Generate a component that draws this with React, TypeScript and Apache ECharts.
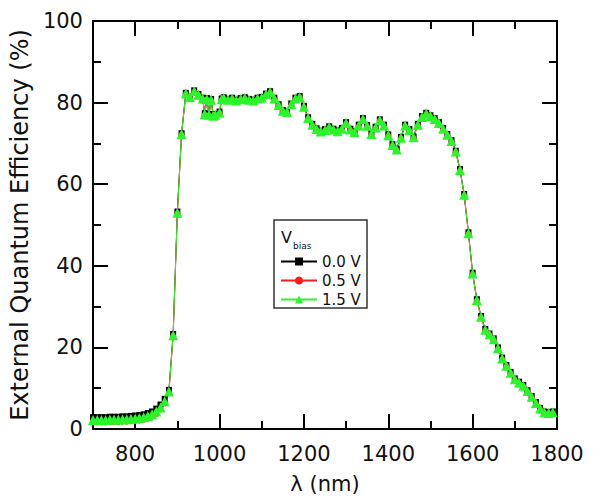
import React, { useEffect, useRef } from "react";
import * as echarts from "echarts";

const wavelengths = [
  700, 710, 720, 730, 740, 750, 760, 770, 780, 790,
  800, 810, 820, 830, 840, 850, 860, 870, 880, 890,
  900, 910, 920, 930, 940, 950, 960, 965, 970, 975,
  980, 985, 990, 1000, 1005, 1010, 1020, 1030, 1040, 1050,
  1060, 1070, 1080, 1090, 1100, 1110, 1120, 1130, 1140, 1150,
  1160, 1170, 1180, 1190, 1200, 1210, 1220, 1230, 1240, 1250,
  1260, 1270, 1280, 1290, 1300, 1310, 1320, 1330, 1340, 1350,
  1360, 1370, 1380, 1390, 1400, 1410, 1420, 1430, 1440, 1450,
  1460, 1470, 1480, 1490, 1500, 1510, 1520, 1530, 1540, 1550,
  1560, 1570, 1580, 1590, 1600, 1610, 1620, 1630, 1640, 1650,
  1660, 1670, 1680, 1690, 1700, 1710, 1720, 1730, 1740, 1750,
  1760, 1770, 1780, 1790,
];

const eqe00 = [
  2.9, 2.9, 2.9, 2.9, 3.0, 3.0, 3.0, 3.1, 3.1, 3.2,
  3.3, 3.4, 3.6, 3.9, 4.3, 5.0, 6.0, 7.4, 9.6, 23.3,
  53.3, 72.5, 82.4, 81.5, 83.0, 82.1, 81.2, 77.4, 81.1, 77.2,
  80.9, 77.0, 77.2, 77.8, 81.0, 81.3, 80.9, 81.2, 80.7, 81.1,
  81.3, 80.9, 80.7, 81.2, 81.4, 82.2, 82.8, 81.2, 79.6, 78.2,
  77.9, 79.8, 81.2, 81.6, 79.2, 76.4, 74.8, 73.7, 73.1, 73.5,
  74.2, 73.6, 73.2, 73.8, 75.2, 73.6, 73.0, 74.6, 76.2, 74.5,
  72.5, 74.1, 75.9, 74.6, 72.2, 69.8, 68.7, 71.6, 74.6, 73.5,
  71.7, 74.8, 76.7, 77.5, 76.9, 76.2, 75.2, 73.8, 72.3, 70.8,
  68.2, 63.7, 57.6, 48.2, 38.3, 31.8, 27.7, 24.5, 23.4, 22.2,
  20.0, 17.5, 15.7, 14.0, 12.4, 11.6, 10.8, 9.5, 8.1, 6.6,
  5.2, 4.3, 4.1, 4.3,
];

const eqe05 = [
  1.6, 1.6, 1.6, 1.6, 1.7, 1.7, 1.7, 1.8, 1.8, 1.9,
  2.0, 2.1, 2.3, 2.6, 3.0, 3.7, 4.8, 6.3, 8.8, 22.7,
  52.8, 72.1, 82.0, 81.1, 82.6, 81.7, 80.8, 77.0, 80.7, 76.8,
  80.5, 76.6, 76.8, 77.4, 80.6, 80.9, 80.5, 80.8, 80.3, 80.7,
  80.9, 80.5, 80.3, 80.8, 81.0, 81.8, 82.4, 80.8, 79.2, 77.8,
  77.5, 79.4, 80.8, 81.2, 78.8, 76.0, 74.4, 73.3, 72.7, 73.1,
  73.8, 73.2, 72.8, 73.4, 74.8, 73.2, 72.6, 74.2, 75.8, 74.1,
  72.1, 73.7, 75.5, 74.2, 71.8, 69.4, 68.3, 71.2, 74.2, 73.1,
  71.3, 74.4, 76.3, 77.1, 76.5, 75.8, 74.8, 73.4, 71.9, 70.4,
  67.8, 63.3, 57.2, 47.8, 37.9, 31.4, 27.3, 24.1, 23.0, 21.8,
  19.6, 17.1, 15.3, 13.6, 12.0, 11.2, 10.4, 9.1, 7.7, 6.2,
  4.8, 3.9, 3.7, 3.9,
];

const eqe15 = [
  2.2, 2.2, 2.2, 2.2, 2.3, 2.3, 2.3, 2.4, 2.4, 2.5,
  2.6, 2.7, 2.9, 3.2, 3.6, 4.3, 5.3, 6.8, 9.2, 23.0,
  53.0, 72.3, 82.2, 81.3, 82.8, 81.9, 81.0, 77.2, 80.9, 77.0,
  80.7, 76.8, 77.0, 77.6, 80.8, 81.1, 80.7, 81.0, 80.5, 80.9,
  81.1, 80.7, 80.5, 81.0, 81.2, 82.0, 82.6, 81.0, 79.4, 78.0,
  77.7, 79.6, 81.0, 81.4, 79.0, 76.2, 74.6, 73.5, 72.9, 73.3,
  74.0, 73.4, 73.0, 73.6, 75.0, 73.4, 72.8, 74.4, 76.0, 74.3,
  72.3, 73.9, 75.7, 74.4, 72.0, 69.6, 68.5, 71.4, 74.4, 73.3,
  71.5, 74.6, 76.5, 77.3, 76.7, 76.0, 75.0, 73.6, 72.1, 70.6,
  68.0, 63.5, 57.4, 48.0, 38.1, 31.6, 27.5, 24.3, 23.2, 22.0,
  19.8, 17.3, 15.5, 13.8, 12.2, 11.4, 10.6, 9.3, 7.9, 6.4,
  5.0, 4.1, 3.9, 4.1,
];

const seriesNames = ["0.0 V", "0.5 V", "1.5 V"];
const seriesColors = ["#000000", "#ff1a1a", "#2af52a"];
const seriesSymbols = ["rect", "circle", "triangle"];
const seriesSizes = [6, 6, 10];
const seriesValues = [eqe00, eqe05, eqe15];

const xName = "λ (nm)";
const yName = "External Quantum Efficiency (%)";

const FONT = "DejaVu Sans";

export default function App() {
  const ref = useRef<HTMLDivElement>(null);

  useEffect(() => {
    if (!ref.current) return;
    const chart = echarts.init(ref.current, null, { renderer: "svg" });

    const axisLine = { show: true, lineStyle: { color: "#000", width: 2 } };
    const majorX = (pos: string, labels: boolean) => ({
      type: "value",
      position: pos,
      min: 700,
      max: 1800,
      splitNumber: 5,
      axisLine,
      axisTick: { show: true, inside: true, length: 15, lineStyle: { color: "#000", width: 2 } },
      axisLabel: labels
        ? {
            show: true,
            showMinLabel: false,
            fontSize: 21,
            color: "#111",
            margin: 14,
            fontFamily: FONT,
            formatter: (v: number) => String(v),
          }
        : { show: false },
      splitLine: { show: false },
      ...(labels
        ? {
            name: xName,
            nameLocation: "middle",
            nameGap: 44,
            nameTextStyle: { fontSize: 21, color: "#111", fontFamily: FONT },
          }
        : {}),
    });
    const minorX = (pos: string) => ({
      type: "value",
      position: pos,
      min: 700,
      max: 1800,
      interval: 100,
      axisLine: { show: false },
      axisTick: { show: true, inside: true, length: 8, lineStyle: { color: "#000", width: 2 } },
      axisLabel: { show: false },
      splitLine: { show: false },
    });
    const yAx = (pos: string, labels: boolean) => ({
      type: "value",
      position: pos,
      min: 0,
      max: 100,
      interval: 20,
      axisLine,
      axisTick: { show: true, inside: true, length: 15, lineStyle: { color: "#000", width: 2 } },
      minorTick: { show: true, splitNumber: 2, length: 8, lineStyle: { color: "#000", width: 2 } },
      axisLabel: labels
        ? { show: true, fontSize: 21, color: "#111", margin: 10, fontFamily: FONT }
        : { show: false },
      splitLine: { show: false },
      ...(labels
        ? {
            name: yName,
            nameLocation: "middle",
            nameRotate: 90,
            nameGap: 52,
            nameTextStyle: { fontSize: 24, color: "#111", fontFamily: FONT },
          }
        : {}),
    });

    chart.setOption({
      animation: false,
      backgroundColor: "#ffffff",
      grid: { left: 87, right: 37, top: 21, bottom: 73, containLabel: false },
      xAxis: [majorX("bottom", true), minorX("bottom"), majorX("top", false), minorX("top")],
      yAxis: [yAx("left", true), yAx("right", false)],
      legend: {
        data: seriesNames,
        orient: "vertical",
        left: 280,
        top: 254,
        itemWidth: 36,
        itemHeight: 10,
        itemGap: 4,
        padding: 0,
        textStyle: { fontSize: 15, color: "#111", fontFamily: FONT, lineHeight: 15 },
      },
      graphic: [
        {
          type: "rect",
          shape: { x: 274, y: 220, width: 93, height: 88 },
          style: { fill: "none", stroke: "#333", lineWidth: 1.5 },
        },
        {
          type: "text",
          x: 281,
          y: 229,
          style: { text: "V", fontSize: 16, fill: "#111", fontFamily: FONT },
        },
        {
          type: "text",
          x: 293,
          y: 241,
          style: { text: "bias", fontSize: 9, fill: "#111", fontFamily: FONT },
        },
      ],
      series: seriesNames.map((name, i) => ({
        name,
        type: "line",
        xAxisIndex: 0,
        yAxisIndex: 0,
        data: wavelengths.map((w, j) => [w, seriesValues[i][j]]),
        symbol: seriesSymbols[i],
        symbolSize: seriesSizes[i],
        showAllSymbol: true,
        color: seriesColors[i],
        itemStyle: { color: seriesColors[i] },
        lineStyle: { color: seriesColors[i], width: 1 },
      })),
    });

    return () => chart.dispose();
  }, []);

  return (
    <div
      ref={ref}
      style={{ position: "fixed", left: 0, top: 0, width: 594, height: 502, background: "#fff" }}
    />
  );
}
